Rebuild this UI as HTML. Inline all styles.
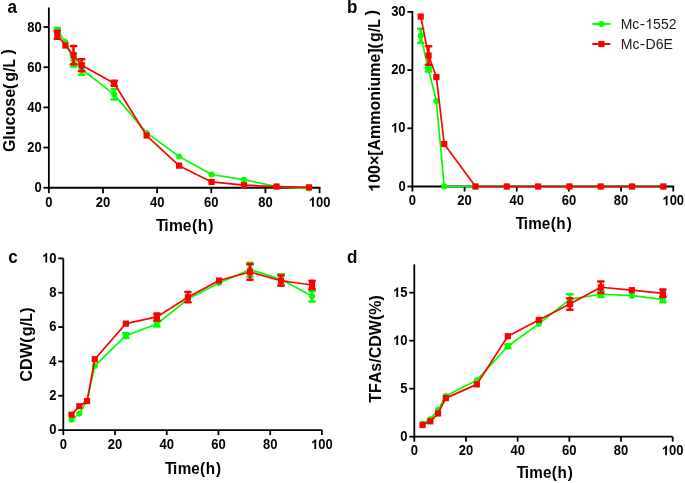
<!DOCTYPE html>
<html><head><meta charset="utf-8"><style>
html,body{margin:0;padding:0;background:#fff;}
body{width:685px;height:483px;overflow:hidden;}
svg{display:block;filter:blur(0.25px);}
text{font-family:"Liberation Sans", sans-serif;font-kerning:none;white-space:pre;}
</style></head><body>
<svg width="685" height="483" viewBox="0 0 685 483">
<line x1="48.85" y1="7.50" x2="48.85" y2="188.65" stroke="#000" stroke-width="1.8"/>
<line x1="47.95" y1="187.75" x2="320.45" y2="187.75" stroke="#000" stroke-width="1.8"/>
<line x1="43.45" y1="187.75" x2="48.85" y2="187.75" stroke="#000" stroke-width="1.8"/>
<g transform="translate(41.65,192.35) scale(1.0000,1.0600)"><text x="-7.230" y="0" font-size="13" font-weight="bold" fill="#000">0</text></g>
<line x1="43.45" y1="147.57" x2="48.85" y2="147.57" stroke="#000" stroke-width="1.8"/>
<g transform="translate(41.65,152.17) scale(1.0000,1.0600)"><text x="-14.460" y="0" font-size="13" font-weight="bold" fill="#000">20</text></g>
<line x1="43.45" y1="107.39" x2="48.85" y2="107.39" stroke="#000" stroke-width="1.8"/>
<g transform="translate(41.65,111.99) scale(1.0000,1.0600)"><text x="-14.460" y="0" font-size="13" font-weight="bold" fill="#000">40</text></g>
<line x1="43.45" y1="67.21" x2="48.85" y2="67.21" stroke="#000" stroke-width="1.8"/>
<g transform="translate(41.65,71.81) scale(1.0000,1.0600)"><text x="-14.460" y="0" font-size="13" font-weight="bold" fill="#000">60</text></g>
<line x1="43.45" y1="27.03" x2="48.85" y2="27.03" stroke="#000" stroke-width="1.8"/>
<g transform="translate(41.65,31.63) scale(1.0000,1.0600)"><text x="-14.460" y="0" font-size="13" font-weight="bold" fill="#000">80</text></g>
<line x1="48.85" y1="187.75" x2="48.85" y2="193.15" stroke="#000" stroke-width="1.8"/>
<g transform="translate(48.85,206.65) scale(1.0000,1.0600)"><text x="-3.615" y="0" font-size="13" font-weight="bold" fill="#000">0</text></g>
<line x1="102.99" y1="187.75" x2="102.99" y2="193.15" stroke="#000" stroke-width="1.8"/>
<g transform="translate(102.99,206.65) scale(1.0000,1.0600)"><text x="-7.230" y="0" font-size="13" font-weight="bold" fill="#000">20</text></g>
<line x1="157.13" y1="187.75" x2="157.13" y2="193.15" stroke="#000" stroke-width="1.8"/>
<g transform="translate(157.13,206.65) scale(1.0000,1.0600)"><text x="-7.230" y="0" font-size="13" font-weight="bold" fill="#000">40</text></g>
<line x1="211.27" y1="187.75" x2="211.27" y2="193.15" stroke="#000" stroke-width="1.8"/>
<g transform="translate(211.27,206.65) scale(1.0000,1.0600)"><text x="-7.230" y="0" font-size="13" font-weight="bold" fill="#000">60</text></g>
<line x1="265.41" y1="187.75" x2="265.41" y2="193.15" stroke="#000" stroke-width="1.8"/>
<g transform="translate(265.41,206.65) scale(1.0000,1.0600)"><text x="-7.230" y="0" font-size="13" font-weight="bold" fill="#000">80</text></g>
<line x1="319.55" y1="187.75" x2="319.55" y2="193.15" stroke="#000" stroke-width="1.8"/>
<g transform="translate(319.55,206.65) scale(1.0000,1.0600)"><text x="-10.845" y="0" font-size="13" font-weight="bold" fill="#000"> 00</text><path transform="translate(-10.845,0) scale(0.006348,-0.006101)" d="M806,0 L525,0 L525,1059 Q371,915 162,846 L162,1101 Q272,1137 336.5,1187.5 Q401,1238 465.5,1288.5 Q530,1339 578,1466 L806,1466 Z" fill="#000"/></g>
<polyline points="57.27,30.04 65.39,42.10 73.51,60.18 81.63,69.22 114.12,94.33 146.60,132.90 179.09,156.41 211.57,174.49 244.05,179.71 276.54,186.54 309.02,188.55" fill="none" stroke="#00ff00" stroke-width="1.7" stroke-linejoin="round"/>
<line x1="57.27" y1="28.03" x2="57.27" y2="32.05" stroke="#00ff00" stroke-width="2.5"/>
<line x1="54.67" y1="28.03" x2="59.87" y2="28.03" stroke="#00ff00" stroke-width="2.5" stroke-linecap="round"/>
<line x1="54.67" y1="32.05" x2="59.87" y2="32.05" stroke="#00ff00" stroke-width="2.5" stroke-linecap="round"/>
<circle cx="57.27" cy="30.04" r="3" fill="#00ff00"/>
<circle cx="65.39" cy="42.10" r="3" fill="#00ff00"/>
<line x1="73.51" y1="53.75" x2="73.51" y2="66.61" stroke="#00ff00" stroke-width="2.5"/>
<line x1="70.91" y1="53.75" x2="76.11" y2="53.75" stroke="#00ff00" stroke-width="2.5" stroke-linecap="round"/>
<line x1="70.91" y1="66.61" x2="76.11" y2="66.61" stroke="#00ff00" stroke-width="2.5" stroke-linecap="round"/>
<circle cx="73.51" cy="60.18" r="3" fill="#00ff00"/>
<line x1="81.63" y1="63.59" x2="81.63" y2="74.84" stroke="#00ff00" stroke-width="2.5"/>
<line x1="79.03" y1="63.59" x2="84.23" y2="63.59" stroke="#00ff00" stroke-width="2.5" stroke-linecap="round"/>
<line x1="79.03" y1="74.84" x2="84.23" y2="74.84" stroke="#00ff00" stroke-width="2.5" stroke-linecap="round"/>
<circle cx="81.63" cy="69.22" r="3" fill="#00ff00"/>
<line x1="114.12" y1="89.11" x2="114.12" y2="99.55" stroke="#00ff00" stroke-width="2.5"/>
<line x1="111.52" y1="89.11" x2="116.72" y2="89.11" stroke="#00ff00" stroke-width="2.5" stroke-linecap="round"/>
<line x1="111.52" y1="99.55" x2="116.72" y2="99.55" stroke="#00ff00" stroke-width="2.5" stroke-linecap="round"/>
<circle cx="114.12" cy="94.33" r="3" fill="#00ff00"/>
<circle cx="146.60" cy="132.90" r="3" fill="#00ff00"/>
<circle cx="179.09" cy="156.41" r="3" fill="#00ff00"/>
<circle cx="211.57" cy="174.49" r="3" fill="#00ff00"/>
<circle cx="244.05" cy="179.71" r="3" fill="#00ff00"/>
<circle cx="276.54" cy="186.54" r="3" fill="#00ff00"/>
<circle cx="309.02" cy="188.55" r="3" fill="#00ff00"/>
<polyline points="57.27,34.66 65.39,45.51 73.51,55.16 81.63,65.20 114.12,83.28 146.60,135.52 179.09,165.65 211.57,181.92 244.05,185.14 276.54,186.54 309.02,187.35" fill="none" stroke="#ff0000" stroke-width="1.7" stroke-linejoin="round"/>
<line x1="57.27" y1="30.65" x2="57.27" y2="38.68" stroke="#ff0000" stroke-width="2.5"/>
<line x1="54.67" y1="30.65" x2="59.87" y2="30.65" stroke="#ff0000" stroke-width="2.5" stroke-linecap="round"/>
<line x1="54.67" y1="38.68" x2="59.87" y2="38.68" stroke="#ff0000" stroke-width="2.5" stroke-linecap="round"/>
<rect x="54.17" y="31.56" width="6.2" height="6.2" fill="#ff0000"/>
<rect x="62.29" y="42.41" width="6.2" height="6.2" fill="#ff0000"/>
<line x1="73.51" y1="46.12" x2="73.51" y2="64.20" stroke="#ff0000" stroke-width="2.5"/>
<line x1="70.91" y1="46.12" x2="76.11" y2="46.12" stroke="#ff0000" stroke-width="2.5" stroke-linecap="round"/>
<line x1="70.91" y1="64.20" x2="76.11" y2="64.20" stroke="#ff0000" stroke-width="2.5" stroke-linecap="round"/>
<rect x="70.41" y="52.06" width="6.2" height="6.2" fill="#ff0000"/>
<line x1="81.63" y1="59.17" x2="81.63" y2="71.23" stroke="#ff0000" stroke-width="2.5"/>
<line x1="79.03" y1="59.17" x2="84.23" y2="59.17" stroke="#ff0000" stroke-width="2.5" stroke-linecap="round"/>
<line x1="79.03" y1="71.23" x2="84.23" y2="71.23" stroke="#ff0000" stroke-width="2.5" stroke-linecap="round"/>
<rect x="78.53" y="62.10" width="6.2" height="6.2" fill="#ff0000"/>
<line x1="114.12" y1="80.87" x2="114.12" y2="85.69" stroke="#ff0000" stroke-width="2.5"/>
<line x1="111.52" y1="80.87" x2="116.72" y2="80.87" stroke="#ff0000" stroke-width="2.5" stroke-linecap="round"/>
<line x1="111.52" y1="85.69" x2="116.72" y2="85.69" stroke="#ff0000" stroke-width="2.5" stroke-linecap="round"/>
<rect x="111.02" y="80.18" width="6.2" height="6.2" fill="#ff0000"/>
<rect x="143.50" y="132.42" width="6.2" height="6.2" fill="#ff0000"/>
<rect x="175.99" y="162.55" width="6.2" height="6.2" fill="#ff0000"/>
<rect x="208.47" y="178.82" width="6.2" height="6.2" fill="#ff0000"/>
<rect x="240.95" y="182.04" width="6.2" height="6.2" fill="#ff0000"/>
<rect x="273.44" y="183.44" width="6.2" height="6.2" fill="#ff0000"/>
<rect x="305.92" y="184.25" width="6.2" height="6.2" fill="#ff0000"/>
<line x1="412.40" y1="11.00" x2="412.40" y2="187.40" stroke="#000" stroke-width="1.8"/>
<line x1="411.50" y1="186.50" x2="674.15" y2="186.50" stroke="#000" stroke-width="1.8"/>
<line x1="407.40" y1="186.50" x2="412.40" y2="186.50" stroke="#000" stroke-width="1.8"/>
<g transform="translate(405.60,190.60) scale(1.0000,1.0600)"><text x="-7.230" y="0" font-size="13" font-weight="bold" fill="#000">0</text></g>
<line x1="407.40" y1="128.30" x2="412.40" y2="128.30" stroke="#000" stroke-width="1.8"/>
<g transform="translate(405.60,132.40) scale(1.0000,1.0600)"><text x="-14.460" y="0" font-size="13" font-weight="bold" fill="#000"> 0</text><path transform="translate(-14.460,0) scale(0.006348,-0.006101)" d="M806,0 L525,0 L525,1059 Q371,915 162,846 L162,1101 Q272,1137 336.5,1187.5 Q401,1238 465.5,1288.5 Q530,1339 578,1466 L806,1466 Z" fill="#000"/></g>
<line x1="407.40" y1="70.10" x2="412.40" y2="70.10" stroke="#000" stroke-width="1.8"/>
<g transform="translate(405.60,74.20) scale(1.0000,1.0600)"><text x="-14.460" y="0" font-size="13" font-weight="bold" fill="#000">20</text></g>
<line x1="407.40" y1="11.90" x2="412.40" y2="11.90" stroke="#000" stroke-width="1.8"/>
<g transform="translate(405.60,16.00) scale(1.0000,1.0600)"><text x="-14.460" y="0" font-size="13" font-weight="bold" fill="#000">30</text></g>
<line x1="412.40" y1="186.50" x2="412.40" y2="191.50" stroke="#000" stroke-width="1.8"/>
<g transform="translate(412.40,205.30) scale(1.0000,1.0600)"><text x="-3.615" y="0" font-size="13" font-weight="bold" fill="#000">0</text></g>
<line x1="464.57" y1="186.50" x2="464.57" y2="191.50" stroke="#000" stroke-width="1.8"/>
<g transform="translate(464.57,205.30) scale(1.0000,1.0600)"><text x="-7.230" y="0" font-size="13" font-weight="bold" fill="#000">20</text></g>
<line x1="516.74" y1="186.50" x2="516.74" y2="191.50" stroke="#000" stroke-width="1.8"/>
<g transform="translate(516.74,205.30) scale(1.0000,1.0600)"><text x="-7.230" y="0" font-size="13" font-weight="bold" fill="#000">40</text></g>
<line x1="568.91" y1="186.50" x2="568.91" y2="191.50" stroke="#000" stroke-width="1.8"/>
<g transform="translate(568.91,205.30) scale(1.0000,1.0600)"><text x="-7.230" y="0" font-size="13" font-weight="bold" fill="#000">60</text></g>
<line x1="621.08" y1="186.50" x2="621.08" y2="191.50" stroke="#000" stroke-width="1.8"/>
<g transform="translate(621.08,205.30) scale(1.0000,1.0600)"><text x="-7.230" y="0" font-size="13" font-weight="bold" fill="#000">80</text></g>
<line x1="673.25" y1="186.50" x2="673.25" y2="191.50" stroke="#000" stroke-width="1.8"/>
<g transform="translate(673.25,205.30) scale(1.0000,1.0600)"><text x="-10.845" y="0" font-size="13" font-weight="bold" fill="#000"> 00</text><path transform="translate(-10.845,0) scale(0.006348,-0.006101)" d="M806,0 L525,0 L525,1059 Q371,915 162,846 L162,1101 Q272,1137 336.5,1187.5 Q401,1238 465.5,1288.5 Q530,1339 578,1466 L806,1466 Z" fill="#000"/></g>
<polyline points="420.73,35.76 428.55,69.52 436.38,100.95 444.20,186.50 475.50,186.50 506.81,186.50 538.11,186.50 569.41,186.50 600.71,186.50 632.01,186.50 663.32,186.50" fill="none" stroke="#00ff00" stroke-width="1.7" stroke-linejoin="round"/>
<line x1="420.73" y1="28.78" x2="420.73" y2="42.75" stroke="#00ff00" stroke-width="2.5"/>
<line x1="418.13" y1="28.78" x2="423.33" y2="28.78" stroke="#00ff00" stroke-width="2.5" stroke-linecap="round"/>
<line x1="418.13" y1="42.75" x2="423.33" y2="42.75" stroke="#00ff00" stroke-width="2.5" stroke-linecap="round"/>
<circle cx="420.73" cy="35.76" r="3" fill="#00ff00"/>
<line x1="428.55" y1="67.48" x2="428.55" y2="71.55" stroke="#00ff00" stroke-width="2.5"/>
<line x1="425.95" y1="67.48" x2="431.15" y2="67.48" stroke="#00ff00" stroke-width="2.5" stroke-linecap="round"/>
<line x1="425.95" y1="71.55" x2="431.15" y2="71.55" stroke="#00ff00" stroke-width="2.5" stroke-linecap="round"/>
<circle cx="428.55" cy="69.52" r="3" fill="#00ff00"/>
<circle cx="436.38" cy="100.95" r="3" fill="#00ff00"/>
<circle cx="444.20" cy="186.50" r="3" fill="#00ff00"/>
<circle cx="475.50" cy="186.50" r="3" fill="#00ff00"/>
<circle cx="506.81" cy="186.50" r="3" fill="#00ff00"/>
<circle cx="538.11" cy="186.50" r="3" fill="#00ff00"/>
<circle cx="569.41" cy="186.50" r="3" fill="#00ff00"/>
<circle cx="600.71" cy="186.50" r="3" fill="#00ff00"/>
<circle cx="632.01" cy="186.50" r="3" fill="#00ff00"/>
<circle cx="663.32" cy="186.50" r="3" fill="#00ff00"/>
<polyline points="420.73,16.56 428.55,55.55 436.38,77.08 444.20,144.01 475.50,186.50 506.81,186.50 538.11,186.50 569.41,186.50 600.71,186.50 632.01,186.50 663.32,186.50" fill="none" stroke="#ff0000" stroke-width="1.7" stroke-linejoin="round"/>
<rect x="417.63" y="13.46" width="6.2" height="6.2" fill="#ff0000"/>
<line x1="428.55" y1="46.24" x2="428.55" y2="64.86" stroke="#ff0000" stroke-width="2.5"/>
<line x1="425.95" y1="46.24" x2="431.15" y2="46.24" stroke="#ff0000" stroke-width="2.5" stroke-linecap="round"/>
<line x1="425.95" y1="64.86" x2="431.15" y2="64.86" stroke="#ff0000" stroke-width="2.5" stroke-linecap="round"/>
<rect x="425.45" y="52.45" width="6.2" height="6.2" fill="#ff0000"/>
<rect x="433.28" y="73.98" width="6.2" height="6.2" fill="#ff0000"/>
<rect x="441.10" y="140.91" width="6.2" height="6.2" fill="#ff0000"/>
<rect x="472.40" y="183.40" width="6.2" height="6.2" fill="#ff0000"/>
<rect x="503.71" y="183.40" width="6.2" height="6.2" fill="#ff0000"/>
<rect x="535.01" y="183.40" width="6.2" height="6.2" fill="#ff0000"/>
<rect x="566.31" y="183.40" width="6.2" height="6.2" fill="#ff0000"/>
<rect x="597.61" y="183.40" width="6.2" height="6.2" fill="#ff0000"/>
<rect x="628.91" y="183.40" width="6.2" height="6.2" fill="#ff0000"/>
<rect x="660.22" y="183.40" width="6.2" height="6.2" fill="#ff0000"/>
<line x1="63.30" y1="258.40" x2="63.30" y2="431.00" stroke="#000" stroke-width="1.8"/>
<line x1="62.40" y1="430.10" x2="322.30" y2="430.10" stroke="#000" stroke-width="1.8"/>
<line x1="58.30" y1="430.10" x2="63.30" y2="430.10" stroke="#000" stroke-width="1.8"/>
<g transform="translate(56.50,434.20) scale(1.0000,1.0600)"><text x="-7.230" y="0" font-size="13" font-weight="bold" fill="#000">0</text></g>
<line x1="58.30" y1="395.76" x2="63.30" y2="395.76" stroke="#000" stroke-width="1.8"/>
<g transform="translate(56.50,399.86) scale(1.0000,1.0600)"><text x="-7.230" y="0" font-size="13" font-weight="bold" fill="#000">2</text></g>
<line x1="58.30" y1="361.42" x2="63.30" y2="361.42" stroke="#000" stroke-width="1.8"/>
<g transform="translate(56.50,365.52) scale(1.0000,1.0600)"><text x="-7.230" y="0" font-size="13" font-weight="bold" fill="#000">4</text></g>
<line x1="58.30" y1="327.08" x2="63.30" y2="327.08" stroke="#000" stroke-width="1.8"/>
<g transform="translate(56.50,331.18) scale(1.0000,1.0600)"><text x="-7.230" y="0" font-size="13" font-weight="bold" fill="#000">6</text></g>
<line x1="58.30" y1="292.74" x2="63.30" y2="292.74" stroke="#000" stroke-width="1.8"/>
<g transform="translate(56.50,296.84) scale(1.0000,1.0600)"><text x="-7.230" y="0" font-size="13" font-weight="bold" fill="#000">8</text></g>
<line x1="58.30" y1="258.40" x2="63.30" y2="258.40" stroke="#000" stroke-width="1.8"/>
<g transform="translate(56.50,262.50) scale(1.0000,1.0600)"><text x="-14.460" y="0" font-size="13" font-weight="bold" fill="#000"> 0</text><path transform="translate(-14.460,0) scale(0.006348,-0.006101)" d="M806,0 L525,0 L525,1059 Q371,915 162,846 L162,1101 Q272,1137 336.5,1187.5 Q401,1238 465.5,1288.5 Q530,1339 578,1466 L806,1466 Z" fill="#000"/></g>
<line x1="63.30" y1="430.10" x2="63.30" y2="435.10" stroke="#000" stroke-width="1.8"/>
<g transform="translate(63.30,448.90) scale(1.0000,1.0600)"><text x="-3.615" y="0" font-size="13" font-weight="bold" fill="#000">0</text></g>
<line x1="115.02" y1="430.10" x2="115.02" y2="435.10" stroke="#000" stroke-width="1.8"/>
<g transform="translate(115.02,448.90) scale(1.0000,1.0600)"><text x="-7.230" y="0" font-size="13" font-weight="bold" fill="#000">20</text></g>
<line x1="166.74" y1="430.10" x2="166.74" y2="435.10" stroke="#000" stroke-width="1.8"/>
<g transform="translate(166.74,448.90) scale(1.0000,1.0600)"><text x="-7.230" y="0" font-size="13" font-weight="bold" fill="#000">40</text></g>
<line x1="218.46" y1="430.10" x2="218.46" y2="435.10" stroke="#000" stroke-width="1.8"/>
<g transform="translate(218.46,448.90) scale(1.0000,1.0600)"><text x="-7.230" y="0" font-size="13" font-weight="bold" fill="#000">60</text></g>
<line x1="270.18" y1="430.10" x2="270.18" y2="435.10" stroke="#000" stroke-width="1.8"/>
<g transform="translate(270.18,448.90) scale(1.0000,1.0600)"><text x="-7.230" y="0" font-size="13" font-weight="bold" fill="#000">80</text></g>
<line x1="321.90" y1="430.10" x2="321.90" y2="435.10" stroke="#000" stroke-width="1.8"/>
<g transform="translate(321.90,448.90) scale(1.0000,1.0600)"><text x="-10.845" y="0" font-size="13" font-weight="bold" fill="#000"> 00</text><path transform="translate(-10.845,0) scale(0.006348,-0.006101)" d="M806,0 L525,0 L525,1059 Q371,915 162,846 L162,1101 Q272,1137 336.5,1187.5 Q401,1238 465.5,1288.5 Q530,1339 578,1466 L806,1466 Z" fill="#000"/></g>
<polyline points="71.56,419.80 79.32,413.62 87.07,400.91 94.83,365.88 125.86,335.67 156.90,323.99 187.93,299.09 218.96,282.95 249.99,269.56 281.02,279.35 312.06,296.35" fill="none" stroke="#00ff00" stroke-width="1.7" stroke-linejoin="round"/>
<circle cx="71.56" cy="419.80" r="3" fill="#00ff00"/>
<circle cx="79.32" cy="413.62" r="3" fill="#00ff00"/>
<circle cx="87.07" cy="400.91" r="3" fill="#00ff00"/>
<circle cx="94.83" cy="365.88" r="3" fill="#00ff00"/>
<line x1="125.86" y1="333.26" x2="125.86" y2="338.07" stroke="#00ff00" stroke-width="2.5"/>
<line x1="123.26" y1="333.26" x2="128.46" y2="333.26" stroke="#00ff00" stroke-width="2.5" stroke-linecap="round"/>
<line x1="123.26" y1="338.07" x2="128.46" y2="338.07" stroke="#00ff00" stroke-width="2.5" stroke-linecap="round"/>
<circle cx="125.86" cy="335.67" r="3" fill="#00ff00"/>
<line x1="156.90" y1="321.59" x2="156.90" y2="326.39" stroke="#00ff00" stroke-width="2.5"/>
<line x1="154.30" y1="321.59" x2="159.50" y2="321.59" stroke="#00ff00" stroke-width="2.5" stroke-linecap="round"/>
<line x1="154.30" y1="326.39" x2="159.50" y2="326.39" stroke="#00ff00" stroke-width="2.5" stroke-linecap="round"/>
<circle cx="156.90" cy="323.99" r="3" fill="#00ff00"/>
<circle cx="187.93" cy="299.09" r="3" fill="#00ff00"/>
<circle cx="218.96" cy="282.95" r="3" fill="#00ff00"/>
<line x1="249.99" y1="262.69" x2="249.99" y2="276.43" stroke="#00ff00" stroke-width="2.5"/>
<line x1="247.39" y1="262.69" x2="252.59" y2="262.69" stroke="#00ff00" stroke-width="2.5" stroke-linecap="round"/>
<line x1="247.39" y1="276.43" x2="252.59" y2="276.43" stroke="#00ff00" stroke-width="2.5" stroke-linecap="round"/>
<circle cx="249.99" cy="269.56" r="3" fill="#00ff00"/>
<line x1="281.02" y1="274.20" x2="281.02" y2="284.50" stroke="#00ff00" stroke-width="2.5"/>
<line x1="278.42" y1="274.20" x2="283.62" y2="274.20" stroke="#00ff00" stroke-width="2.5" stroke-linecap="round"/>
<line x1="278.42" y1="284.50" x2="283.62" y2="284.50" stroke="#00ff00" stroke-width="2.5" stroke-linecap="round"/>
<circle cx="281.02" cy="279.35" r="3" fill="#00ff00"/>
<line x1="312.06" y1="291.19" x2="312.06" y2="301.50" stroke="#00ff00" stroke-width="2.5"/>
<line x1="309.46" y1="291.19" x2="314.66" y2="291.19" stroke="#00ff00" stroke-width="2.5" stroke-linecap="round"/>
<line x1="309.46" y1="301.50" x2="314.66" y2="301.50" stroke="#00ff00" stroke-width="2.5" stroke-linecap="round"/>
<circle cx="312.06" cy="296.35" r="3" fill="#00ff00"/>
<polyline points="71.56,414.65 79.32,406.23 87.07,401.08 94.83,359.19 125.86,323.65 156.90,316.95 187.93,297.20 218.96,280.55 249.99,271.96 281.02,280.72 312.06,285.01" fill="none" stroke="#ff0000" stroke-width="1.7" stroke-linejoin="round"/>
<rect x="68.46" y="411.55" width="6.2" height="6.2" fill="#ff0000"/>
<rect x="76.22" y="403.13" width="6.2" height="6.2" fill="#ff0000"/>
<rect x="83.97" y="397.98" width="6.2" height="6.2" fill="#ff0000"/>
<rect x="91.73" y="356.09" width="6.2" height="6.2" fill="#ff0000"/>
<rect x="122.76" y="320.55" width="6.2" height="6.2" fill="#ff0000"/>
<line x1="156.90" y1="313.52" x2="156.90" y2="320.38" stroke="#ff0000" stroke-width="2.5"/>
<line x1="154.30" y1="313.52" x2="159.50" y2="313.52" stroke="#ff0000" stroke-width="2.5" stroke-linecap="round"/>
<line x1="154.30" y1="320.38" x2="159.50" y2="320.38" stroke="#ff0000" stroke-width="2.5" stroke-linecap="round"/>
<rect x="153.80" y="313.85" width="6.2" height="6.2" fill="#ff0000"/>
<line x1="187.93" y1="292.05" x2="187.93" y2="302.36" stroke="#ff0000" stroke-width="2.5"/>
<line x1="185.33" y1="292.05" x2="190.53" y2="292.05" stroke="#ff0000" stroke-width="2.5" stroke-linecap="round"/>
<line x1="185.33" y1="302.36" x2="190.53" y2="302.36" stroke="#ff0000" stroke-width="2.5" stroke-linecap="round"/>
<rect x="184.83" y="294.10" width="6.2" height="6.2" fill="#ff0000"/>
<rect x="215.86" y="277.45" width="6.2" height="6.2" fill="#ff0000"/>
<line x1="249.99" y1="264.24" x2="249.99" y2="279.69" stroke="#ff0000" stroke-width="2.5"/>
<line x1="247.39" y1="264.24" x2="252.59" y2="264.24" stroke="#ff0000" stroke-width="2.5" stroke-linecap="round"/>
<line x1="247.39" y1="279.69" x2="252.59" y2="279.69" stroke="#ff0000" stroke-width="2.5" stroke-linecap="round"/>
<rect x="246.89" y="268.86" width="6.2" height="6.2" fill="#ff0000"/>
<line x1="281.02" y1="275.57" x2="281.02" y2="285.87" stroke="#ff0000" stroke-width="2.5"/>
<line x1="278.42" y1="275.57" x2="283.62" y2="275.57" stroke="#ff0000" stroke-width="2.5" stroke-linecap="round"/>
<line x1="278.42" y1="285.87" x2="283.62" y2="285.87" stroke="#ff0000" stroke-width="2.5" stroke-linecap="round"/>
<rect x="277.92" y="277.62" width="6.2" height="6.2" fill="#ff0000"/>
<line x1="312.06" y1="280.72" x2="312.06" y2="289.31" stroke="#ff0000" stroke-width="2.5"/>
<line x1="309.46" y1="280.72" x2="314.66" y2="280.72" stroke="#ff0000" stroke-width="2.5" stroke-linecap="round"/>
<line x1="309.46" y1="289.31" x2="314.66" y2="289.31" stroke="#ff0000" stroke-width="2.5" stroke-linecap="round"/>
<rect x="308.96" y="281.91" width="6.2" height="6.2" fill="#ff0000"/>
<line x1="414.30" y1="264.40" x2="414.30" y2="437.60" stroke="#000" stroke-width="1.8"/>
<line x1="413.40" y1="436.70" x2="672.60" y2="436.70" stroke="#000" stroke-width="1.8"/>
<line x1="409.30" y1="436.70" x2="414.30" y2="436.70" stroke="#000" stroke-width="1.8"/>
<g transform="translate(407.50,441.10) scale(1.0000,1.0600)"><text x="-7.230" y="0" font-size="13" font-weight="bold" fill="#000">0</text></g>
<line x1="409.30" y1="388.70" x2="414.30" y2="388.70" stroke="#000" stroke-width="1.8"/>
<g transform="translate(407.50,393.10) scale(1.0000,1.0600)"><text x="-7.230" y="0" font-size="13" font-weight="bold" fill="#000">5</text></g>
<line x1="409.30" y1="340.70" x2="414.30" y2="340.70" stroke="#000" stroke-width="1.8"/>
<g transform="translate(407.50,345.10) scale(1.0000,1.0600)"><text x="-14.460" y="0" font-size="13" font-weight="bold" fill="#000"> 0</text><path transform="translate(-14.460,0) scale(0.006348,-0.006101)" d="M806,0 L525,0 L525,1059 Q371,915 162,846 L162,1101 Q272,1137 336.5,1187.5 Q401,1238 465.5,1288.5 Q530,1339 578,1466 L806,1466 Z" fill="#000"/></g>
<line x1="409.30" y1="292.70" x2="414.30" y2="292.70" stroke="#000" stroke-width="1.8"/>
<g transform="translate(407.50,297.10) scale(1.0000,1.0600)"><text x="-14.460" y="0" font-size="13" font-weight="bold" fill="#000"> 5</text><path transform="translate(-14.460,0) scale(0.006348,-0.006101)" d="M806,0 L525,0 L525,1059 Q371,915 162,846 L162,1101 Q272,1137 336.5,1187.5 Q401,1238 465.5,1288.5 Q530,1339 578,1466 L806,1466 Z" fill="#000"/></g>
<line x1="414.30" y1="436.70" x2="414.30" y2="441.70" stroke="#000" stroke-width="1.8"/>
<g transform="translate(414.30,455.20) scale(1.0000,1.0600)"><text x="-3.615" y="0" font-size="13" font-weight="bold" fill="#000">0</text></g>
<line x1="465.98" y1="436.70" x2="465.98" y2="441.70" stroke="#000" stroke-width="1.8"/>
<g transform="translate(465.98,455.20) scale(1.0000,1.0600)"><text x="-7.230" y="0" font-size="13" font-weight="bold" fill="#000">20</text></g>
<line x1="517.66" y1="436.70" x2="517.66" y2="441.70" stroke="#000" stroke-width="1.8"/>
<g transform="translate(517.66,455.20) scale(1.0000,1.0600)"><text x="-7.230" y="0" font-size="13" font-weight="bold" fill="#000">40</text></g>
<line x1="569.34" y1="436.70" x2="569.34" y2="441.70" stroke="#000" stroke-width="1.8"/>
<g transform="translate(569.34,455.20) scale(1.0000,1.0600)"><text x="-7.230" y="0" font-size="13" font-weight="bold" fill="#000">60</text></g>
<line x1="621.02" y1="436.70" x2="621.02" y2="441.70" stroke="#000" stroke-width="1.8"/>
<g transform="translate(621.02,455.20) scale(1.0000,1.0600)"><text x="-7.230" y="0" font-size="13" font-weight="bold" fill="#000">80</text></g>
<line x1="672.70" y1="436.70" x2="672.70" y2="441.70" stroke="#000" stroke-width="1.8"/>
<g transform="translate(672.70,455.20) scale(1.0000,1.0600)"><text x="-10.845" y="0" font-size="13" font-weight="bold" fill="#000"> 00</text><path transform="translate(-10.845,0) scale(0.006348,-0.006101)" d="M806,0 L525,0 L525,1059 Q371,915 162,846 L162,1101 Q272,1137 336.5,1187.5 Q401,1238 465.5,1288.5 Q530,1339 578,1466 L806,1466 Z" fill="#000"/></g>
<polyline points="422.55,423.64 430.30,419.32 438.06,409.72 445.81,396.09 476.82,380.16 507.82,346.27 538.83,323.90 569.84,299.42 600.85,294.24 631.86,295.68 662.86,299.42" fill="none" stroke="#00ff00" stroke-width="1.7" stroke-linejoin="round"/>
<circle cx="422.55" cy="423.64" r="3" fill="#00ff00"/>
<circle cx="430.30" cy="419.32" r="3" fill="#00ff00"/>
<circle cx="438.06" cy="409.72" r="3" fill="#00ff00"/>
<circle cx="445.81" cy="396.09" r="3" fill="#00ff00"/>
<circle cx="476.82" cy="380.16" r="3" fill="#00ff00"/>
<line x1="507.82" y1="344.35" x2="507.82" y2="348.19" stroke="#00ff00" stroke-width="2.5"/>
<line x1="505.22" y1="344.35" x2="510.42" y2="344.35" stroke="#00ff00" stroke-width="2.5" stroke-linecap="round"/>
<line x1="505.22" y1="348.19" x2="510.42" y2="348.19" stroke="#00ff00" stroke-width="2.5" stroke-linecap="round"/>
<circle cx="507.82" cy="346.27" r="3" fill="#00ff00"/>
<circle cx="538.83" cy="323.90" r="3" fill="#00ff00"/>
<line x1="569.84" y1="294.14" x2="569.84" y2="304.70" stroke="#00ff00" stroke-width="2.5"/>
<line x1="567.24" y1="294.14" x2="572.44" y2="294.14" stroke="#00ff00" stroke-width="2.5" stroke-linecap="round"/>
<line x1="567.24" y1="304.70" x2="572.44" y2="304.70" stroke="#00ff00" stroke-width="2.5" stroke-linecap="round"/>
<circle cx="569.84" cy="299.42" r="3" fill="#00ff00"/>
<line x1="600.85" y1="291.36" x2="600.85" y2="297.12" stroke="#00ff00" stroke-width="2.5"/>
<line x1="598.25" y1="291.36" x2="603.45" y2="291.36" stroke="#00ff00" stroke-width="2.5" stroke-linecap="round"/>
<line x1="598.25" y1="297.12" x2="603.45" y2="297.12" stroke="#00ff00" stroke-width="2.5" stroke-linecap="round"/>
<circle cx="600.85" cy="294.24" r="3" fill="#00ff00"/>
<circle cx="631.86" cy="295.68" r="3" fill="#00ff00"/>
<line x1="662.86" y1="296.54" x2="662.86" y2="302.30" stroke="#00ff00" stroke-width="2.5"/>
<line x1="660.26" y1="296.54" x2="665.46" y2="296.54" stroke="#00ff00" stroke-width="2.5" stroke-linecap="round"/>
<line x1="660.26" y1="302.30" x2="665.46" y2="302.30" stroke="#00ff00" stroke-width="2.5" stroke-linecap="round"/>
<circle cx="662.86" cy="299.42" r="3" fill="#00ff00"/>
<polyline points="422.55,425.08 430.30,421.34 438.06,413.47 445.81,398.11 476.82,384.38 507.82,336.19 538.83,319.96 569.84,304.03 600.85,287.23 631.86,290.20 662.86,293.28" fill="none" stroke="#ff0000" stroke-width="1.7" stroke-linejoin="round"/>
<rect x="419.45" y="421.98" width="6.2" height="6.2" fill="#ff0000"/>
<rect x="427.20" y="418.24" width="6.2" height="6.2" fill="#ff0000"/>
<rect x="434.96" y="410.37" width="6.2" height="6.2" fill="#ff0000"/>
<rect x="442.71" y="395.01" width="6.2" height="6.2" fill="#ff0000"/>
<rect x="473.72" y="381.28" width="6.2" height="6.2" fill="#ff0000"/>
<rect x="504.72" y="333.09" width="6.2" height="6.2" fill="#ff0000"/>
<rect x="535.73" y="316.86" width="6.2" height="6.2" fill="#ff0000"/>
<line x1="569.84" y1="298.27" x2="569.84" y2="309.79" stroke="#ff0000" stroke-width="2.5"/>
<line x1="567.24" y1="298.27" x2="572.44" y2="298.27" stroke="#ff0000" stroke-width="2.5" stroke-linecap="round"/>
<line x1="567.24" y1="309.79" x2="572.44" y2="309.79" stroke="#ff0000" stroke-width="2.5" stroke-linecap="round"/>
<rect x="566.74" y="300.93" width="6.2" height="6.2" fill="#ff0000"/>
<line x1="600.85" y1="281.47" x2="600.85" y2="292.99" stroke="#ff0000" stroke-width="2.5"/>
<line x1="598.25" y1="281.47" x2="603.45" y2="281.47" stroke="#ff0000" stroke-width="2.5" stroke-linecap="round"/>
<line x1="598.25" y1="292.99" x2="603.45" y2="292.99" stroke="#ff0000" stroke-width="2.5" stroke-linecap="round"/>
<rect x="597.75" y="284.13" width="6.2" height="6.2" fill="#ff0000"/>
<rect x="628.76" y="287.10" width="6.2" height="6.2" fill="#ff0000"/>
<line x1="662.86" y1="289.44" x2="662.86" y2="297.12" stroke="#ff0000" stroke-width="2.5"/>
<line x1="660.26" y1="289.44" x2="665.46" y2="289.44" stroke="#ff0000" stroke-width="2.5" stroke-linecap="round"/>
<line x1="660.26" y1="297.12" x2="665.46" y2="297.12" stroke="#ff0000" stroke-width="2.5" stroke-linecap="round"/>
<rect x="659.76" y="290.18" width="6.2" height="6.2" fill="#ff0000"/>
<g transform="translate(7.60,13.30) scale(1.0000,1.0400)"><text x="0.000" y="0" font-size="17" font-weight="bold" fill="#000">a</text></g>
<g transform="translate(347.00,13.30) scale(1.0000,1.0400)"><text x="0.000" y="0" font-size="17" font-weight="bold" fill="#000">b</text></g>
<g transform="translate(8.20,262.60) scale(1.0000,1.0400)"><text x="0.000" y="0" font-size="17" font-weight="bold" fill="#000">c</text></g>
<g transform="translate(347.00,263.00) scale(1.0000,1.0400)"><text x="0.000" y="0" font-size="17" font-weight="bold" fill="#000">d</text></g>
<g transform="translate(156.08,230.70) scale(1.0150,1.0300)"><text x="0.000" y="0.000" font-size="15.4" font-weight="bold" fill="#000">T</text><text x="8.107" y="0.000" font-size="15.4" font-weight="bold" fill="#000">i</text><text x="12.686" y="0.000" font-size="15.4" font-weight="bold" fill="#000">m</text><text x="26.379" y="0.000" font-size="15.4" font-weight="bold" fill="#000">e</text><text x="35.343" y="0.000" font-size="15.4" font-weight="bold" fill="#000">(</text><text x="41.072" y="0.000" font-size="15.4" font-weight="bold" fill="#000">h</text><text x="51.479" y="0.000" font-size="15.4" font-weight="bold" fill="#000">)</text></g>
<g transform="translate(515.72,228.50) scale(0.9900,1.0300)"><text x="0.000" y="0.000" font-size="15.4" font-weight="bold" fill="#000">T</text><text x="8.107" y="0.000" font-size="15.4" font-weight="bold" fill="#000">i</text><text x="12.686" y="0.000" font-size="15.4" font-weight="bold" fill="#000">m</text><text x="26.379" y="0.000" font-size="15.4" font-weight="bold" fill="#000">e</text><text x="35.343" y="0.000" font-size="15.4" font-weight="bold" fill="#000">(</text><text x="41.072" y="0.000" font-size="15.4" font-weight="bold" fill="#000">h</text><text x="51.479" y="0.000" font-size="15.4" font-weight="bold" fill="#000">)</text></g>
<g transform="translate(165.07,474.10) scale(0.9900,1.0300)"><text x="0.000" y="0.000" font-size="15.4" font-weight="bold" fill="#000">T</text><text x="8.107" y="0.000" font-size="15.4" font-weight="bold" fill="#000">i</text><text x="12.686" y="0.000" font-size="15.4" font-weight="bold" fill="#000">m</text><text x="26.379" y="0.000" font-size="15.4" font-weight="bold" fill="#000">e</text><text x="35.343" y="0.000" font-size="15.4" font-weight="bold" fill="#000">(</text><text x="41.072" y="0.000" font-size="15.4" font-weight="bold" fill="#000">h</text><text x="51.479" y="0.000" font-size="15.4" font-weight="bold" fill="#000">)</text></g>
<g transform="translate(516.77,478.30) scale(0.9900,1.0300)"><text x="0.000" y="0.000" font-size="15.4" font-weight="bold" fill="#000">T</text><text x="8.107" y="0.000" font-size="15.4" font-weight="bold" fill="#000">i</text><text x="12.686" y="0.000" font-size="15.4" font-weight="bold" fill="#000">m</text><text x="26.379" y="0.000" font-size="15.4" font-weight="bold" fill="#000">e</text><text x="35.343" y="0.000" font-size="15.4" font-weight="bold" fill="#000">(</text><text x="41.072" y="0.000" font-size="15.4" font-weight="bold" fill="#000">h</text><text x="51.479" y="0.000" font-size="15.4" font-weight="bold" fill="#000">)</text></g>
<g transform="translate(15.30,100.60) rotate(-90) scale(1.0000,1.0200)"><text x="-51.479" y="0.000" font-size="16" font-weight="bold" fill="#000">G</text><text x="-39.034" y="0.000" font-size="16" font-weight="bold" fill="#000">l</text><text x="-34.589" y="0.000" font-size="16" font-weight="bold" fill="#000">u</text><text x="-24.815" y="0.000" font-size="16" font-weight="bold" fill="#000">c</text><text x="-15.917" y="0.000" font-size="16" font-weight="bold" fill="#000">o</text><text x="-6.143" y="0.000" font-size="16" font-weight="bold" fill="#000">s</text><text x="2.755" y="0.000" font-size="16" font-weight="bold" fill="#000">e</text><text x="11.654" y="0.000" font-size="16" font-weight="bold" fill="#000">(</text><text x="18.882" y="0.000" font-size="16" font-weight="bold" fill="#000">g</text><text x="28.655" y="0.000" font-size="16" font-weight="bold" fill="#000">/</text><text transform="translate(33.101,0.000) scale(0.8600,1)" font-size="16" font-weight="bold" fill="#000">L</text><text x="46.151" y="-2.300" font-size="16" font-weight="bold" fill="#000">)</text></g>
<g transform="translate(379.70,100.85) rotate(-90) scale(0.9980,1.0000)"><path transform="translate(-91.057,0.000) scale(0.007812,-0.007509)" d="M806,0 L525,0 L525,1059 Q371,915 162,846 L162,1101 Q272,1137 336.5,1187.5 Q401,1238 465.5,1288.5 Q530,1339 578,1466 L806,1466 Z" fill="#000"/><text x="-82.159" y="0.000" font-size="16" font-weight="bold" fill="#000">0</text><text x="-73.260" y="0.000" font-size="16" font-weight="bold" fill="#000">0</text><text x="-64.362" y="0.000" font-size="16" font-weight="bold" fill="#000">×</text><text x="-55.018" y="0.000" font-size="16" font-weight="bold" fill="#000">[</text><text x="-49.690" y="0.000" font-size="16" font-weight="bold" fill="#000">A</text><text x="-38.135" y="0.000" font-size="16" font-weight="bold" fill="#000">m</text><text x="-23.909" y="0.000" font-size="16" font-weight="bold" fill="#000">m</text><text x="-9.682" y="0.000" font-size="16" font-weight="bold" fill="#000">o</text><text x="0.091" y="0.000" font-size="16" font-weight="bold" fill="#000">n</text><text x="9.865" y="0.000" font-size="16" font-weight="bold" fill="#000">i</text><text x="14.310" y="0.000" font-size="16" font-weight="bold" fill="#000">u</text><text x="24.083" y="0.000" font-size="16" font-weight="bold" fill="#000">m</text><text x="38.310" y="0.000" font-size="16" font-weight="bold" fill="#000">e</text><text x="47.208" y="0.000" font-size="16" font-weight="bold" fill="#000">]</text><text x="52.536" y="0.000" font-size="16" font-weight="bold" fill="#000">(</text><text x="59.065" y="0.000" font-size="16" font-weight="bold" fill="#000">g</text><text x="68.838" y="0.000" font-size="16" font-weight="bold" fill="#000">/</text><text transform="translate(73.283,0.000) scale(0.8800,1)" font-size="16" font-weight="bold" fill="#000">L</text><text x="85.729" y="-2.300" font-size="16" font-weight="bold" fill="#000">)</text></g>
<g transform="translate(31.70,344.50) rotate(-90) scale(1.0200,1.0000)"><text x="-36.493" y="0.000" font-size="16" font-weight="bold" fill="#000">C</text><text x="-24.939" y="0.000" font-size="16" font-weight="bold" fill="#000">D</text><text x="-13.384" y="0.000" font-size="16" font-weight="bold" fill="#000">W</text><text x="1.718" y="0.000" font-size="16" font-weight="bold" fill="#000">(</text><text x="8.046" y="0.000" font-size="16" font-weight="bold" fill="#000">g</text><text x="17.819" y="0.000" font-size="16" font-weight="bold" fill="#000">/</text><text transform="translate(22.265,0.000) scale(0.8800,1)" font-size="16" font-weight="bold" fill="#000">L</text><text x="31.165" y="0.000" font-size="16" font-weight="bold" fill="#000">)</text></g>
<g transform="translate(381.40,349.00) rotate(-90)"><text x="-53.770" y="0" font-size="16" font-weight="bold" fill="#000">TFAs/CDW(%)</text></g>
<line x1="592.3" y1="23.9" x2="610.3" y2="23.9" stroke="#00ff00" stroke-width="2"/>
<circle cx="601.4" cy="23.9" r="3" fill="#00ff00"/>
<line x1="592.3" y1="44" x2="610.3" y2="44" stroke="#ff0000" stroke-width="2"/>
<rect x="598.3" y="40.9" width="6.2" height="6.2" fill="#ff0000"/>
<g transform="translate(620.70,29.00) scale(0.9660,1.0400)"><text x="0.000" y="0.000" font-size="14.5" font-weight="normal" fill="#1a1a1a">M</text><text x="12.079" y="0.000" font-size="14.5" font-weight="normal" fill="#1a1a1a">c</text><text transform="translate(19.629,0.000) scale(1.1500,1)" font-size="14.5" font-weight="normal" fill="#1a1a1a">-</text><path transform="translate(25.482,0.000) scale(0.007080,-0.006805)" d="M763,0 L583,0 L583,1147 Q518,1085 412.5,1023 Q307,961 223,930 L223,1104 Q374,1175 484.5,1273.5 Q595,1372 645,1466 L763,1466 Z" fill="#1a1a1a"/><text x="33.546" y="0.000" font-size="14.5" font-weight="normal" fill="#1a1a1a">5</text><text x="41.610" y="0.000" font-size="14.5" font-weight="normal" fill="#1a1a1a">5</text><text x="49.674" y="0.000" font-size="14.5" font-weight="normal" fill="#1a1a1a">2</text></g>
<g transform="translate(620.70,49.10) scale(0.9720,1.0400)"><text x="0.000" y="0.000" font-size="14.5" font-weight="normal" fill="#1a1a1a">M</text><text x="12.079" y="0.000" font-size="14.5" font-weight="normal" fill="#1a1a1a">c</text><text transform="translate(19.629,0.000) scale(1.1500,1)" font-size="14.5" font-weight="normal" fill="#1a1a1a">-</text><text x="25.482" y="0.000" font-size="14.5" font-weight="normal" fill="#1a1a1a">D</text><text x="35.953" y="0.000" font-size="14.5" font-weight="normal" fill="#1a1a1a">6</text><text x="44.017" y="0.000" font-size="14.5" font-weight="normal" fill="#1a1a1a">E</text></g>
</svg>
</body></html>
